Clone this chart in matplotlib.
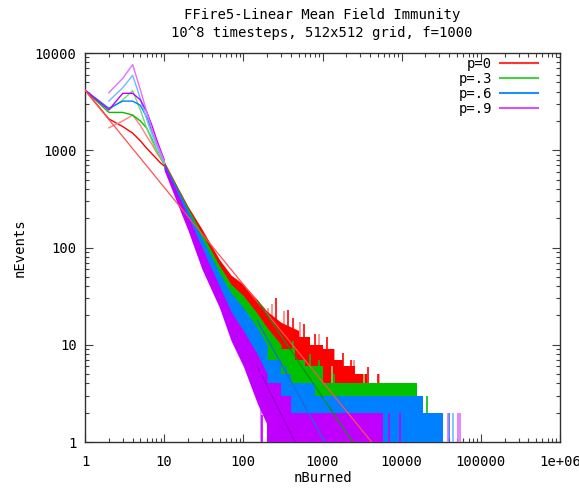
import matplotlib

matplotlib.use("Agg")
import matplotlib.pyplot as plt
from matplotlib.lines import Line2D

FONT = "DejaVu Sans Mono"

labels = ["p=0", "p=.3", "p=.6", "p=.9"]
dark = ["#ff0000", "#00c000", "#0080ff", "#c000ff"]
light = ["#ff8080", "#70dc70", "#70b8ff", "#e070ff"]
legend_colors = ["#ff3535", "#45d045", "#1e8cff", "#d055ff"]
fit_colors = ["#ff5050", "#109010", "#1a6ad8", "#9a00d0"]

# head of each histogram, one point per nBurned = 1..10
head_x = [1, 2, 3, 4, 5, 6, 7, 8, 9, 10]
head_dark = [
    [4150, 2100, 1750, 1500, 1250, 1050, 920, 820, 740, 690],
    [4150, 2450, 2450, 2300, 2000, 1700, 1300, 1000, 850, 720],
    [4150, 2700, 3200, 3200, 2900, 2200, 1600, 1200, 950, 760],
    [4150, 2600, 3850, 3850, 3300, 2500, 1800, 1300, 1000, 800],
]
light_x = [2, 3, 4, 5, 6, 7, 8, 9, 10]
head_light = [
    [1700, 2000, 2300, 1800, 1400, 1150, 950, 820, 720],
    [2600, 3300, 4100, 2600, 1700, 1250, 1000, 850, 730],
    [3200, 4400, 5900, 3400, 2100, 1450, 1100, 900, 750],
    [3900, 5500, 7600, 4200, 2500, 1650, 1200, 950, 780],
]

# noisy middle section: band between lowest and highest values of each series
mid_x = [
    [10, 15, 20, 30, 50, 70, 100, 150, 200, 300, 500],
    [10, 15, 20, 30, 50, 70, 100, 150, 200, 300],
    [10, 15, 20, 30, 50, 70, 100, 150, 200],
    [10, 15, 20, 30, 50, 70, 100, 150, 200],
]
mid_hi = [
    [770, 410, 265, 155, 75, 52, 42, 29, 22, 17, 14],
    [750, 395, 255, 140, 65, 42, 32, 21, 15, 10],
    [735, 385, 240, 125, 55, 34, 24, 15, 10],
    [720, 350, 210, 100, 40, 22, 14, 8, 5],
]
mid_lo = [
    [660, 330, 200, 105, 48, 32, 22, 13, 9, 5, 3],
    [650, 320, 190, 95, 42, 26, 16, 9, 6, 3],
    [640, 300, 175, 80, 33, 19, 11, 5, 2.5],
    [620, 270, 150, 60, 24, 11, 6, 2.5, 1.5],
]

# sparse tail: counts jump between 1 and a small integer level
tail_edges = [
    [500, 700, 1000, 1400, 1800, 2600, 3600, 8700, 14000, 20000],
    [300, 450, 600, 1000, 15500, 23000],
    [200, 300, 400, 800, 18600, 33000],
    [200, 300, 400, 5800],
]
tail_levels = [
    [12, 10, 9, 7, 6, 5, 4, 3, 2],
    [9, 7, 6, 4, 2],
    [7, 5, 4, 3, 2],
    [4, 3, 2],
]

# isolated tall spikes (x, top)
spikes_dark = [
    [(260, 30), (370, 22.6), (420, 19), (580, 16.5), (800, 13), (1150, 12),
     (1800, 8.2), (2300, 7), (3800, 5.9), (5000, 5), (7700, 4), (12000, 3)],
    [(420, 11), (700, 8), (900, 7), (1400, 5), (15500, 2.9), (21000, 3)],
    [(350, 6), (650, 4), (18000, 2.9), (24000, 2), (40000, 2)],
    [(170, 1.9), (7000, 2), (9500, 2)],
]
spikes_light = [
    [(205, 24), (230, 26), (330, 22), (520, 17), (900, 13), (1400, 9),
     (2500, 7), (5200, 5)],
    [(1300, 6), (3300, 5), (26000, 2)],
    [(30000, 2), (45000, 2)],
    [(165, 3.5), (38000, 2), (51000, 2), (54000, 2)],
]

# straight power-law fits: (x, y) at the two ends
fit_start = [(1, 4150), (150, 28.6), (150, 17.6), (150, 6)]
fit_end = [(4170, 1), (2400, 1), (1070, 1), (450, 1)]

x_ticks = [1, 10, 100, 1000, 10000, 100000, 1000000]
x_tick_labels = ["1", "10", "100", "1000", "10000", "100000", "1e+06"]
y_ticks = [1, 10, 100, 1000, 10000]
y_tick_labels = ["1", "10", "100", "1000", "10000"]

fig = plt.figure(figsize=(5.79, 4.90), dpi=100)
ax = fig.add_axes([85 / 579, 1 - 442 / 490, 475 / 579, 389 / 490])
ax.set_xscale("log")
ax.set_yscale("log")
ax.set_xlim(1, 1e6)
ax.set_ylim(1, 1e4)

for i in range(4):
    z = 2 + i
    ax.fill_between(mid_x[i], mid_lo[i], mid_hi[i], color=dark[i], lw=0, zorder=z)
    edges = tail_edges[i]
    levels = tail_levels[i] + [tail_levels[i][-1]]
    ax.fill_between(edges, 1, levels, step="post", color=dark[i], lw=0, zorder=z)
    sx = [s[0] for s in spikes_dark[i]]
    sy = [s[1] for s in spikes_dark[i]]
    ax.vlines(sx, 1, sy, color=dark[i], lw=1.2, zorder=z)
    lx = [s[0] for s in spikes_light[i]]
    ly = [s[1] for s in spikes_light[i]]
    ax.vlines(lx, 1, ly, color=light[i], lw=1.2, zorder=z - 0.5)
    ax.plot(head_x, head_dark[i], color=dark[i], lw=1, zorder=z)
    ax.plot(light_x, head_light[i], color=light[i], lw=1, zorder=z + 0.2)

for i in range(4):
    ax.plot([fit_start[i][0], fit_end[i][0]], [fit_start[i][1], fit_end[i][1]],
            color=fit_colors[i], lw=0.9, zorder=10)

ax.set_xticks(x_ticks)
ax.set_xticklabels(x_tick_labels, fontfamily=FONT, fontsize=10)
ax.set_yticks(y_ticks)
ax.set_yticklabels(y_tick_labels, fontfamily=FONT, fontsize=10)
ax.tick_params(which="both", direction="in", top=True, right=True, color="#404040")
ax.tick_params(which="major", length=6, width=0.8)
ax.tick_params(which="minor", length=3, width=0.8)
ax.tick_params(axis="x", pad=9)
ax.tick_params(axis="y", pad=6)
for spine in ax.spines.values():
    spine.set_color("#303030")
    spine.set_linewidth(1)

ax.set_xlabel("nBurned", fontfamily=FONT, fontsize=10, labelpad=2)
ax.set_ylabel("nEvents", fontfamily=FONT, fontsize=10, labelpad=6)

fig.text(322 / 579, 1 - 15 / 490, "FFire5-Linear Mean Field Immunity",
         ha="center", va="center", fontfamily=FONT, fontsize=10)
fig.text(322 / 579, 1 - 33 / 490, "10^8 timesteps, 512x512 grid, f=1000",
         ha="center", va="center", fontfamily=FONT, fontsize=10)

handles = [Line2D([], [], color=c, lw=1.5) for c in legend_colors]
ax.legend(handles, labels, loc="upper right", bbox_to_anchor=(0.965, 1.004),
          frameon=False, markerfirst=False, handlelength=2.7, handletextpad=0.6,
          labelspacing=0.08, prop={"family": FONT, "size": 10}, borderaxespad=0)

fig.savefig("out.png", dpi=100)
